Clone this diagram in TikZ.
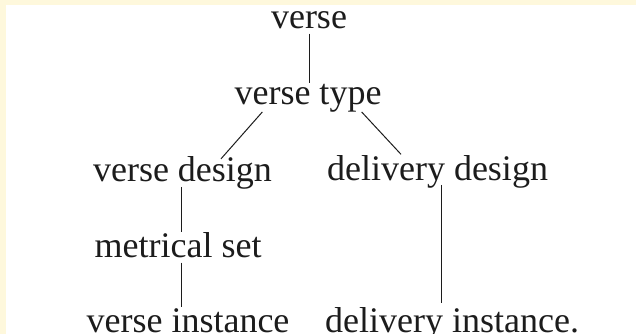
\documentclass[tikz,border=0pt]{standalone}
\usepackage{fontspec}
\setmainfont{Liberation Serif}
\usetikzlibrary{calc}
\definecolor{paper}{HTML}{FEF8DC}
\definecolor{ink}{HTML}{1C1C1C}
\begin{document}
\begin{tikzpicture}[x=1pt,y=-1pt,
  term/.style={anchor=base,inner sep=2pt,text=ink,font=\fontsize{36}{40}\selectfont},
  link/.style={draw=ink,line width=1pt}]
\useasboundingbox (0,0) rectangle (636,334);
\fill[paper] (0,0) rectangle (636,334);
\fill[white] (6,5) rectangle (636,334);
\node[term] (v)  at (309,29)   {verse};
\node[term] (vt) at (308,105)  {verse type};
\node[term] (vd) at (182.5,181) {verse design};
\node[term] (dd) at (437.5,180) {delivery design};
\node[term] (ms) at (178,257)  {metrical set};
\node[term] (vi) at (188,332)  {verse instance};
\node[term] (di) at (452,332)  {delivery instance.};
\draw[link] ([yshift=-2pt]v.south) -- (v.south |- vt.north);
\draw[link] ([xshift=30pt,yshift=3pt]vt.south west) -- ([xshift=38.5pt,yshift=-5pt]vd.north);
\draw[link] ([xshift=-22pt,yshift=3pt]vt.south east) -- ([xshift=-36.5pt,yshift=-1.5pt]dd.north);
\draw[link] ([xshift=-1.5pt,yshift=4pt]vd.south) -- ([xshift=-1.5pt,yshift=-2.5pt]vd.south |- ms.north);
\draw[link] ([xshift=-1.5pt,yshift=-3pt]vd.south |- ms.south) -- ([xshift=-1.5pt,yshift=-1.5pt]vd.south |- vi.north);
\draw[link] ([xshift=3.5pt,yshift=5pt]dd.south) -- ([xshift=3.5pt,yshift=1.5pt]dd.south |- di.north);
\end{tikzpicture}
\end{document}
